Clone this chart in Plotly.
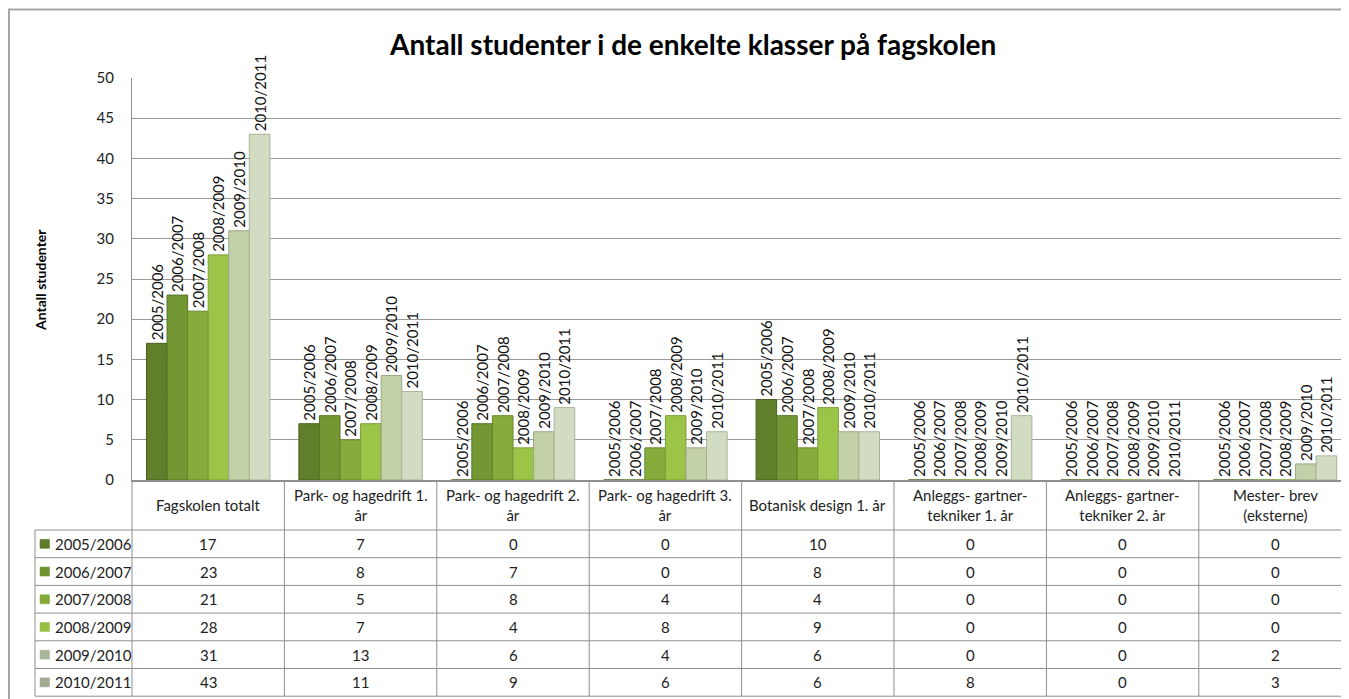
import plotly.graph_objects as go

# ---------------- data ----------------
categories = ["Fagskolen totalt", "Park- og hagedrift 1. år", "Park- og hagedrift 2. år",
              "Park- og hagedrift 3. år", "Botanisk design 1. år",
              "Anleggs- gartner- tekniker 1. år", "Anleggs- gartner- tekniker 2. år",
              "Mester- brev (eksterne)"]
header_labels = ["Fagskolen totalt", "Park- og hagedrift 1.<br>år", "Park- og hagedrift 2.<br>år",
                 "Park- og hagedrift 3.<br>år", "Botanisk design 1. år",
                 "Anleggs- gartner-<br>tekniker 1. år", "Anleggs- gartner-<br>tekniker 2. år",
                 "Mester- brev<br>(eksterne)"]
series_names = ["2005/2006", "2006/2007", "2007/2008", "2008/2009", "2009/2010", "2010/2011"]
v_2005_2006 = [17, 7, 0, 0, 10, 0, 0, 0]
v_2006_2007 = [23, 8, 7, 0, 8, 0, 0, 0]
v_2007_2008 = [21, 5, 8, 4, 4, 0, 0, 0]
v_2008_2009 = [28, 7, 4, 8, 9, 0, 0, 0]
v_2009_2010 = [31, 13, 6, 4, 6, 0, 0, 2]
v_2010_2011 = [43, 11, 9, 6, 6, 8, 0, 3]
series_values = [v_2005_2006, v_2006_2007, v_2007_2008, v_2008_2009, v_2009_2010, v_2010_2011]
y_ticks = list(range(0, 51, 5))
title_text = "Antall studenter i de enkelte klasser på fagskolen"
y_title = "Antall studenter"

# ---------------- style ----------------
fills = ["#617f2a", "#729733", "#87ac3c", "#9cc548", "#c3d1a8", "#d2dcc2"]
edges = ["#46601d", "#557426", "#67872d", "#7a9d36", "#9aa886", "#a8b399"]
key_fills = ["#5d7b28", "#6e9230", "#84a83a", "#98be45", "#a9b69b", "#a2aa92"]
FONT = "Lato, Carlito, Calibri, sans-serif"
GRID = "#9a9a9a"
LINE = "#8f8f8f"

OFF = 8                      # page body margin (screen px)
W, H = 1349 - OFF, 699 - OFF
L, T, PB = 132 - OFF, 78 - OFF, 480 - OFF   # plot left, top, bottom in figure px
PW, PH = W - L, PB - T
CW = 152.4                   # width of one category column, px
n = len(categories)
x_end = -0.5 + PW / CW

def px(sx):                  # screen x -> paper
    return (sx - OFF - L) / PW

def py(sy):                  # screen y -> paper
    return (PB - (sy - OFF)) / PH

fig = go.Figure()
for name, vals, fc, ec in zip(series_names, series_values, fills, edges):
    fig.add_trace(go.Bar(
        x=categories, y=vals, name=name,
        marker=dict(color=fc, line=dict(color=ec, width=1)),
        text=[name] * len(vals), textposition="outside", textangle=-90,
        textfont=dict(family=FONT, size=15, color="#111111"),
        cliponaxis=False, constraintext="none", showlegend=False,
    ))

shapes = []
annotations = []

# outer chart border
shapes.append(dict(type="rect", xref="paper", yref="paper",
                   x0=px(9), x1=px(1370), y0=py(9.5), y1=py(720),
                   line=dict(color="#a6a6a6", width=2), fillcolor="rgba(0,0,0,0)", layer="below"))

# title
annotations.append(dict(text="<b>" + title_text + "</b>", xref="paper", yref="paper",
                        x=px(692), y=py(44), xanchor="center", yanchor="middle", showarrow=False,
                        font=dict(family=FONT, size=28, color="#000000")))
# y axis title
annotations.append(dict(text="<b>" + y_title + "</b>", xref="paper", yref="paper",
                        x=px(40), y=py(280), xanchor="center", yanchor="middle", textangle=-90,
                        showarrow=False, font=dict(family=FONT, size=14, color="#000000")))

# data table
hdr_bottom = 530
row_h = 27.7
leg_left = 35
tbl_bottom = hdr_bottom + row_h * len(series_names)
for i in range(n + 1):
    xb = (i * CW) / PW
    shapes.append(dict(type="line", xref="paper", yref="paper",
                       x0=xb, x1=xb, y0=py(480), y1=py(tbl_bottom),
                       line=dict(color=LINE, width=1)))
shapes.append(dict(type="line", xref="paper", yref="paper",
                   x0=px(leg_left), x1=px(leg_left), y0=py(hdr_bottom),
                   y1=py(tbl_bottom), line=dict(color=LINE, width=1)))
for k in range(len(series_names) + 1):
    yy = py(hdr_bottom + row_h * k)
    shapes.append(dict(type="line", xref="paper", yref="paper", x0=px(leg_left), x1=1.01,
                       y0=yy, y1=yy, line=dict(color=LINE, width=1)))

for cat, lab in zip(categories, header_labels):
    annotations.append(dict(text=lab, xref="x", yref="paper", x=cat, y=py((480 + hdr_bottom) / 2),
                            xanchor="center", yanchor="middle", showarrow=False,
                            font=dict(family=FONT, size=15, color="#222222")))

for k, (name, vals, kc) in enumerate(zip(series_names, series_values, key_fills)):
    yc = hdr_bottom + row_h * (k + 0.5)
    shapes.append(dict(type="rect", xref="paper", yref="paper", x0=px(40), x1=px(49.5),
                       y0=py(yc - 4.5), y1=py(yc + 4.5), fillcolor=kc,
                       line=dict(color=kc, width=0.5)))
    annotations.append(dict(text=name, xref="paper", yref="paper", x=px(52.5), y=py(yc),
                            xanchor="left", yanchor="middle", showarrow=False,
                            font=dict(family=FONT, size=15, color="#222222")))
    for cat, v in zip(categories, vals):
        annotations.append(dict(text=str(v), xref="x", yref="paper", x=cat, y=py(yc),
                                xanchor="center", yanchor="middle", showarrow=False,
                                font=dict(family=FONT, size=15, color="#222222")))

fig.update_layout(
    width=W, height=H,
    margin=dict(l=L, r=0, t=T, b=H - PB, pad=0),
    paper_bgcolor="white", plot_bgcolor="white",
    barmode="group", bargap=0.19, bargroupgap=0,
    font=dict(family=FONT, size=15, color="#222222"),
    xaxis=dict(range=[-0.5, x_end], showticklabels=False, showgrid=False, zeroline=False,
               showline=True, linecolor=LINE, linewidth=2, ticks=""),
    yaxis=dict(range=[0, 50], tickvals=y_ticks, showgrid=True, gridcolor=GRID, gridwidth=1,
               zeroline=False, showline=True, linecolor=LINE, linewidth=1, ticks="",
               ticklabelstandoff=14, tickfont=dict(family=FONT, size=15, color="#222222")),
    shapes=shapes, annotations=annotations,
)

fig.write_html("out.html")
